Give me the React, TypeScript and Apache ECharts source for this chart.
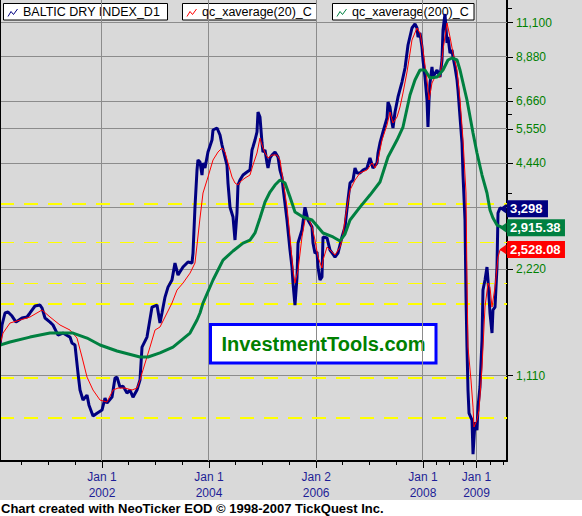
import React, { useEffect, useRef } from "react";
import * as echarts from "echarts";

// Axis ranges (decimal years, log values)
const X_MIN = 2000.0935;
const X_MAX = 2009.5701;
const Y_MIN = 636.3;
const Y_MAX = 12874;

const X_LABEL_VALUES = [2002.0, 2004.0, 2006.003, 2008.0, 2009.0];
const X_LABELS = ["Jan 1\n2002", "Jan 1\n2004", "Jan 2\n2006", "Jan 1\n2008", "Jan 1\n2009"];
const X_MINOR_TICKS = [2000.5, 2001.0, 2001.5, 2002.5, 2003.0, 2003.5, 2004.5, 2005.0, 2005.5, 2006.5, 2007.0, 2007.5, 2008.25, 2008.5, 2008.75, 2009.25, 2009.5];

const Y_GRID_VALUES = [1110, 2220, 3330, 4440, 5550, 6660, 8880, 11100];
const Y_LABEL_VALUES = [1110, 2220, 4440, 5550, 6660, 8880, 11100];
const Y_MINOR_TICKS = [3648, 6107, 7235, 12200];

const LEVELS = [3395, 2642, 2027, 1768, 1091, 840];
const LEVEL_WIDTHS = [2, 1, 1, 2, 2, 2];

const LEGEND_NAMES = ["BALTIC DRY INDEX_D1", "qc_xaverage(20)_C", "qc_xaverage(200)_C"];

const BDI: [number, number][] = [
  [2000.093, 1347], [2000.131, 1545], [2000.187, 1671], [2000.243, 1682], [2000.318, 1638], [2000.393, 1575],
  [2000.505, 1617], [2000.598, 1628], [2000.654, 1671], [2000.748, 1749], [2000.841, 1760], [2000.879, 1726],
  [2000.935, 1617], [2001.028, 1575], [2001.084, 1545], [2001.178, 1447], [2001.271, 1466], [2001.402, 1428],
  [2001.439, 1374], [2001.495, 1356], [2001.551, 1130], [2001.589, 1011], [2001.645, 947], [2001.720, 978],
  [2001.757, 916], [2001.832, 853], [2001.907, 869], [2002.000, 887], [2002.056, 959], [2002.093, 928],
  [2002.187, 965], [2002.243, 1093], [2002.280, 1100], [2002.336, 1031], [2002.393, 1037], [2002.467, 991],
  [2002.523, 1011], [2002.579, 965], [2002.654, 1011], [2002.710, 1079], [2002.748, 1338], [2002.841, 1428],
  [2002.935, 1737], [2003.028, 1760], [2003.084, 1565], [2003.121, 1671], [2003.178, 1854], [2003.234, 1978],
  [2003.308, 2072], [2003.364, 2315], [2003.421, 2140], [2003.514, 2255], [2003.607, 2330], [2003.682, 2315],
  [2003.701, 2470], [2003.738, 3330], [2003.776, 4247], [2003.794, 4533], [2003.832, 4474], [2003.869, 4110],
  [2003.888, 4445], [2003.925, 4302], [2003.981, 4775], [2004.056, 5165], [2004.075, 5513], [2004.150, 5586],
  [2004.206, 5336], [2004.243, 4999], [2004.336, 4387], [2004.355, 3901], [2004.393, 3330], [2004.449, 3125],
  [2004.486, 2690], [2004.523, 3208], [2004.542, 3851], [2004.579, 3978], [2004.636, 4110], [2004.710, 4191],
  [2004.766, 4247], [2004.804, 4838], [2004.822, 4934], [2004.860, 5165], [2004.897, 5442], [2004.916, 6200],
  [2004.953, 6000], [2004.991, 5065], [2005.009, 4775], [2005.047, 4838], [2005.084, 4445], [2005.103, 4302],
  [2005.140, 4592], [2005.178, 4683], [2005.234, 4775], [2005.290, 4622], [2005.327, 4247], [2005.364, 4056],
  [2005.383, 3801], [2005.458, 3065], [2005.514, 2520], [2005.551, 2255], [2005.570, 2031], [2005.607, 1760],
  [2005.645, 2113], [2005.664, 2637], [2005.738, 2871], [2005.794, 3330], [2005.850, 3065], [2005.925, 2928],
  [2005.944, 2637], [2005.981, 2470], [2006.019, 2488], [2006.037, 2255], [2006.075, 2072], [2006.112, 2113],
  [2006.131, 2744], [2006.206, 2726], [2006.262, 2520], [2006.355, 2407], [2006.411, 2470], [2006.486, 2744],
  [2006.542, 2928], [2006.598, 3492], [2006.636, 3901], [2006.692, 3978], [2006.729, 4302], [2006.766, 4164],
  [2006.822, 4164], [2006.879, 4247], [2006.953, 4302], [2007.009, 4592], [2007.065, 4302], [2007.140, 4445],
  [2007.159, 4745], [2007.196, 5065], [2007.252, 5442], [2007.327, 5962], [2007.346, 6619], [2007.383, 6402],
  [2007.421, 5771], [2007.439, 5586], [2007.477, 6200], [2007.533, 6838], [2007.607, 7540], [2007.664, 8262],
  [2007.720, 9599], [2007.794, 10726], [2007.850, 11010], [2007.888, 10726], [2007.907, 10114], [2007.944, 10380],
  [2007.981, 9475], [2008.000, 8704], [2008.037, 7790], [2008.075, 6705], [2008.093, 5622], [2008.112, 6705],
  [2008.131, 7491], [2008.168, 8316], [2008.187, 7790], [2008.262, 8154], [2008.318, 7790], [2008.355, 8704],
  [2008.374, 10586], [2008.411, 11750], [2008.449, 9726], [2008.467, 10114], [2008.505, 9105], [2008.542, 9291],
  [2008.561, 8877], [2008.598, 8316], [2008.636, 7639], [2008.654, 7157], [2008.692, 6000], [2008.729, 5065],
  [2008.748, 4110], [2008.785, 3065], [2008.804, 1854], [2008.822, 1338], [2008.841, 1011], [2008.860, 869],
  [2008.916, 831], [2008.935, 665], [2008.972, 820], [2009.009, 778], [2009.028, 904], [2009.065, 1031],
  [2009.103, 1401], [2009.121, 1941], [2009.159, 2072], [2009.196, 2255], [2009.215, 2072], [2009.252, 1671],
  [2009.290, 1466], [2009.308, 1704], [2009.346, 1737], [2009.383, 2255], [2009.402, 3208], [2009.439, 3313],
  [2009.495, 3298],
];

const MA20: [number, number][] = [
  [2000.093, 1356], [2000.150, 1466], [2000.280, 1565], [2000.467, 1596], [2000.654, 1628], [2000.879, 1704],
  [2001.028, 1628], [2001.215, 1545], [2001.402, 1495], [2001.533, 1419], [2001.626, 1254], [2001.720, 1100],
  [2001.832, 1011], [2001.963, 947], [2002.093, 935], [2002.206, 1011], [2002.299, 1024], [2002.430, 1024],
  [2002.561, 1011], [2002.654, 1024], [2002.710, 1079], [2002.766, 1152], [2002.897, 1338], [2002.991, 1495],
  [2003.084, 1525], [2003.215, 1671], [2003.308, 1783], [2003.402, 1941], [2003.514, 2031], [2003.645, 2167],
  [2003.738, 2315], [2003.776, 2603], [2003.832, 3105], [2003.888, 3655], [2003.981, 4056], [2004.075, 4533],
  [2004.168, 4775], [2004.243, 4902], [2004.299, 4775], [2004.355, 4445], [2004.430, 4056], [2004.486, 3901],
  [2004.542, 3851], [2004.579, 3928], [2004.673, 4030], [2004.766, 4110], [2004.822, 4387], [2004.897, 4745],
  [2004.953, 5232], [2004.991, 4999], [2005.047, 4745], [2005.103, 4592], [2005.178, 4683], [2005.271, 4683],
  [2005.327, 4533], [2005.383, 3978], [2005.458, 3333], [2005.514, 2744], [2005.570, 2211], [2005.607, 2031],
  [2005.664, 2211], [2005.738, 2744], [2005.794, 3065], [2005.850, 3125], [2005.925, 2928], [2005.981, 2690],
  [2006.037, 2407], [2006.112, 2240], [2006.131, 2360], [2006.206, 2569], [2006.262, 2520], [2006.355, 2439],
  [2006.449, 2569], [2006.486, 2690], [2006.579, 3333], [2006.636, 3727], [2006.729, 3978], [2006.822, 4164],
  [2006.953, 4247], [2007.047, 4445], [2007.103, 4302], [2007.159, 4533], [2007.234, 5165], [2007.327, 5696],
  [2007.383, 6200], [2007.439, 5771], [2007.514, 6000], [2007.570, 6402], [2007.626, 7018], [2007.701, 8049],
  [2007.757, 9105], [2007.794, 9917], [2007.888, 10726], [2007.944, 10380], [2008.000, 9291], [2008.075, 7639],
  [2008.112, 6705], [2008.168, 7491], [2008.224, 7790], [2008.318, 7790], [2008.374, 9291], [2008.449, 11080],
  [2008.505, 10114], [2008.561, 9105], [2008.636, 8154], [2008.692, 6705], [2008.748, 5165], [2008.804, 3655],
  [2008.822, 2072], [2008.841, 1338], [2008.897, 1079], [2008.935, 904], [2008.953, 794], [2009.009, 831],
  [2009.047, 887], [2009.103, 1175], [2009.159, 1737], [2009.215, 2031], [2009.252, 1978], [2009.290, 1737],
  [2009.346, 1978], [2009.402, 2407], [2009.439, 2520], [2009.495, 2528.08],
];

const MA200: [number, number][] = [
  [2000.093, 1356], [2000.280, 1383], [2000.654, 1428], [2001.028, 1466], [2001.458, 1466], [2001.720, 1419],
  [2001.963, 1356], [2002.280, 1304], [2002.710, 1254], [2002.860, 1254], [2003.084, 1288], [2003.327, 1338],
  [2003.645, 1466], [2003.776, 1596], [2003.832, 1671], [2003.888, 1783], [2004.075, 2072], [2004.262, 2360],
  [2004.449, 2504], [2004.636, 2637], [2004.766, 2690], [2004.860, 2816], [2004.953, 3105], [2005.047, 3446],
  [2005.140, 3679], [2005.234, 3851], [2005.327, 3978], [2005.421, 3901], [2005.514, 3561], [2005.607, 3229],
  [2005.757, 3125], [2005.925, 3065], [2006.037, 2928], [2006.131, 2816], [2006.318, 2744], [2006.449, 2673],
  [2006.542, 2797], [2006.636, 3065], [2006.822, 3333], [2007.009, 3607], [2007.196, 3928], [2007.346, 4622],
  [2007.514, 5165], [2007.626, 5622], [2007.757, 6927], [2007.850, 7639], [2007.944, 8154], [2008.037, 8154],
  [2008.131, 7741], [2008.262, 7790], [2008.374, 8154], [2008.467, 8704], [2008.542, 8818], [2008.636, 8704],
  [2008.692, 8154], [2008.822, 6705], [2008.935, 5406], [2009.009, 4745], [2009.103, 4110], [2009.196, 3655],
  [2009.252, 3271], [2009.308, 3105], [2009.383, 2966], [2009.495, 2915.38],
];

const NAVY = "#000080";
const RED = "#ff0000";
const GREEN = "#008040";
const GRID_GRAY = "#8c8c8c";
const LEVEL_YELLOW = "#ffff00";
const FONT = "'Liberation Sans', Arial, sans-serif";

function fmt(v: number, d: number) {
  return v.toLocaleString("en-US", { minimumFractionDigits: d, maximumFractionDigits: d });
}

function lineSeries(name: string, data: [number, number][], color: string, width: number, decimals: number, badgeWidth: number, z: number) {
  const last = data[data.length - 1];
  return {
    name,
    type: "line",
    data,
    z,
    symbol: "none",
    showSymbol: false,
    lineStyle: { color, width },
    itemStyle: { color },
    endLabel: {
      show: true,
      distance: 4,
      formatter: (p: any) => fmt(p.value[1], decimals),
      backgroundColor: color,
      color: "#ffffff",
      fontWeight: "bold",
      fontSize: 13,
      fontFamily: FONT,
      lineHeight: 13,
      padding: [2, 3, 2, 3],
      width: badgeWidth,
      align: "left",
    },
    markPoint: {
      silent: true,
      symbol: "triangle",
      symbolSize: [10, 7],
      symbolRotate: 90,
      label: { show: false },
      itemStyle: { color },
      data: [{ coord: [last[0], last[1]] }],
    },
  };
}

function legendBox(x: number, w: number, textX: number, name: string, color: string) {
  return {
    type: "group",
    z: 100,
    children: [
      { type: "rect", shape: { x: x + 0.5, y: 3.5, width: w, height: 16.5 }, style: { fill: "#ffffff", stroke: "#000000", lineWidth: 1 } },
      {
        type: "polyline",
        shape: { points: [[x + 5, 16.5], [x + 8, 11.5], [x + 10.5, 14.5], [x + 14.5, 9]] },
        style: { stroke: color, lineWidth: 1, fill: null },
      },
      { type: "text", x: textX, y: 12, style: { text: name, fill: "#000000", font: `12.5px ${FONT}`, textVerticalAlign: "middle" } },
    ],
  };
}

// crisp pixel position for a line of given width
function crisp(p: number, w: number) {
  return w % 2 === 1 ? Math.round(p - 0.5) + 0.5 : Math.round(p);
}

export default function App() {
  const ref = useRef<HTMLDivElement>(null);
  useEffect(() => {
    if (!ref.current) return;
    const chart = echarts.init(ref.current, undefined, { renderer: "svg" });
    const staticGraphic: any[] = [
      { type: "line", z: 50, silent: true, shape: { x1: 0.5, y1: 0, x2: 0.5, y2: 461 }, style: { stroke: "#000000", lineWidth: 1 } },
      legendBox(3, 164, 23, LEGEND_NAMES[0], NAVY),
      legendBox(182, 134, 202, LEGEND_NAMES[1], RED),
      legendBox(332, 141.5, 352, LEGEND_NAMES[2], GREEN),
      {
        type: "group",
        z: 100,
        children: [
          { type: "rect", shape: { x: 210.5, y: 324.5, width: 225.5, height: 38.5 }, style: { fill: "#ffffff", stroke: "#0000ff", lineWidth: 3 } },
          {
            type: "text",
            x: 323.5,
            y: 344,
            style: { text: "InvestmentTools.com", fill: "#008000", font: `bold 20px ${FONT}`, textAlign: "center", textVerticalAlign: "middle" },
          },
        ],
      },
      {
        type: "text",
        z: 100,
        x: 1,
        y: 508,
        style: { text: "Chart created with NeoTicker EOD © 1998-2007 TickQuest Inc.", fill: "#000000", font: `bold 13px ${FONT}`, textVerticalAlign: "middle" },
      },
    ];
    const option: any = {
      animation: false,
      backgroundColor: "transparent",
      grid: { left: 0, right: 75, top: 0, bottom: 55, containLabel: false },
      xAxis: [
        {
          type: "value",
          position: "bottom",
          min: X_MIN,
          max: X_MAX,
          axisLine: { show: true, lineStyle: { color: "#000000", width: 2 } },
          axisTick: { show: true, customValues: X_LABEL_VALUES, length: 7, lineStyle: { color: "#000000" } },
          axisLabel: {
            show: true,
            customValues: X_LABEL_VALUES,
            formatter: (v: number) => {
              const i = X_LABEL_VALUES.findIndex((x) => Math.abs(x - v) < 1e-6);
              return i >= 0 ? X_LABELS[i] : "";
            },
            color: "#1e1e96",
            fontSize: 12,
            fontFamily: FONT,
            lineHeight: 16,
            margin: 8,
          },
          splitLine: { show: false },
        },
        {
          type: "value",
          position: "bottom",
          min: X_MIN,
          max: X_MAX,
          axisLine: { show: false },
          axisTick: { show: true, customValues: X_MINOR_TICKS, length: 4, lineStyle: { color: "#000000" } },
          axisLabel: { show: false },
          splitLine: { show: false },
        },
      ],
      yAxis: [
        {
          type: "log",
          logBase: 10,
          position: "right",
          min: Y_MIN,
          max: Y_MAX,
          axisLine: { show: true, lineStyle: { color: "#000000", width: 2 } },
          axisTick: { show: true, customValues: Y_GRID_VALUES, length: 6, lineStyle: { color: "#000000" } },
          axisLabel: {
            show: true,
            customValues: Y_LABEL_VALUES,
            formatter: (v: number) => fmt(Math.round(v), 0),
            color: "#008000",
            fontSize: 12,
            fontFamily: FONT,
            margin: 9,
          },
          splitLine: { show: false },
        },
        {
          type: "log",
          logBase: 10,
          position: "right",
          min: Y_MIN,
          max: Y_MAX,
          axisLine: { show: false },
          axisTick: { show: true, customValues: Y_MINOR_TICKS, length: 5, lineStyle: { color: "#000000" } },
          axisLabel: { show: false },
          splitLine: { show: false },
        },
      ],
      series: [
        lineSeries(LEGEND_NAMES[0], BDI, NAVY, 3, 0, 35, 3),
        lineSeries(LEGEND_NAMES[1], MA20, RED, 1, 2, 52, 4),
        lineSeries(LEGEND_NAMES[2], MA200, GREEN, 3, 2, 52, 5),
      ],
      graphic: staticGraphic,
    };
    chart.setOption(option);

    // Grid and level lines, positioned through the chart's own axis scales
    const px = (t: number) => chart.convertToPixel({ xAxisIndex: 0 }, t) as number;
    const py = (v: number) => chart.convertToPixel({ yAxisIndex: 0 }, v) as number;
    const left = px(X_MIN);
    const right = px(X_MAX);
    const top = py(Y_MAX);
    const bottom = py(Y_MIN);
    const lines: any[] = [];
    X_LABEL_VALUES.forEach((t) => {
      const x = crisp(px(t), 1);
      lines.push({ type: "line", z: 1, silent: true, shape: { x1: x, y1: top, x2: x, y2: bottom }, style: { stroke: GRID_GRAY, lineWidth: 1 } });
    });
    Y_GRID_VALUES.forEach((v) => {
      const y = crisp(py(v), 1);
      lines.push({ type: "line", z: 1, silent: true, shape: { x1: left, y1: y, x2: right, y2: y }, style: { stroke: GRID_GRAY, lineWidth: 1 } });
    });
    LEVELS.forEach((v, i) => {
      const w = LEVEL_WIDTHS[i];
      const y = crisp(py(v), w);
      lines.push({ type: "line", z: 2, silent: true, shape: { x1: left, y1: y, x2: right, y2: y }, style: { stroke: LEVEL_YELLOW, lineWidth: w, lineDash: [14, 10] } });
    });
    chart.setOption({ graphic: [...staticGraphic, ...lines] });

    return () => chart.dispose();
  }, []);

  return (
    <div style={{ position: "absolute", left: 0, top: 0, width: 582, height: 516, background: "#ffffff" }}>
      <div style={{ position: "absolute", left: 0, top: 0, width: 582, height: 500, background: "#d9d9d9" }} />
      <div ref={ref} style={{ position: "absolute", left: 0, top: 0, width: 582, height: 516 }} />
    </div>
  );
}
